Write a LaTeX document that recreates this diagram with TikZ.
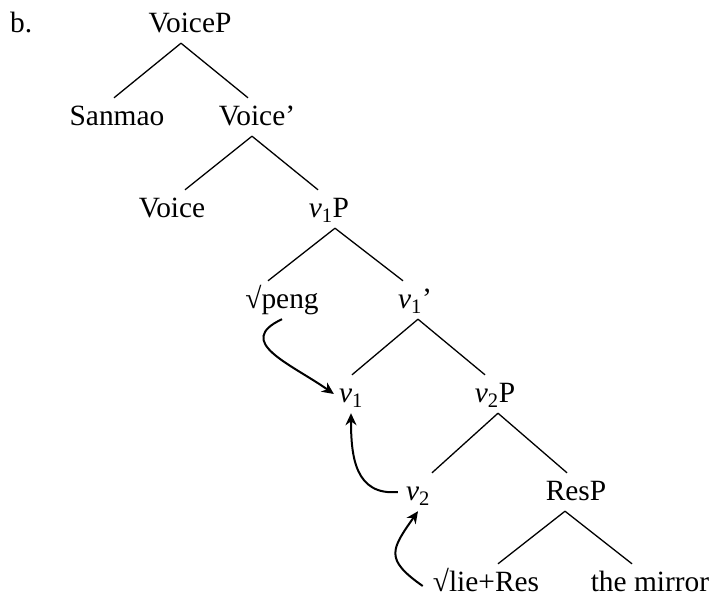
\documentclass[tikz,border=0pt]{standalone}
\usepackage{fontspec}
\setmainfont{Liberation Serif}
\usepackage{tikz}
\usetikzlibrary{arrows.meta}

\newcommand{\vhead}[1]{\textit{v}\textsubscript{#1}}

\begin{document}
\begin{tikzpicture}[x=1pt,y=1pt,
    font=\fontsize{29.4}{35}\selectfont,
    lbl/.style={anchor=base,inner xsep=2pt,inner ysep=6pt,text height=21pt,text depth=5pt},
    mv/.style={-{Stealth[length=12pt,width=11pt]},line width=2pt}]
            \useasboundingbox (0,0) rectangle (714,-597);
            \node[anchor=base west,inner sep=0pt] (lab) at (10,-32) {b.};
            \foreach \n/\x/\y/\t in {VoiceP/190/32/VoiceP,Sanmao/117/125/Sanmao,Voicebar/257/125/Voice’,
                Voice/172/217/Voice,vaP/329/217/\vhead{1}P,peng/282/308/√peng,vabar/415/308/\vhead{1}’,
                va/351/402/\vhead{1},vbP/495/402/\vhead{2}P,vb/418/500/\vhead{2},ResP/576/500/ResP,
                lie/486/591/√lie+Res,mirror/650/591/the mirror}
            {
                \node[lbl] (\n) at (\x,-\y) {\t};
            }
            % branches, with the small sideways offsets of each end
            \foreach \p/\c/\a/\b in {VoiceP/Sanmao/-9/-3,VoiceP/Voicebar/-9/-9,Voicebar/Voice/-5/13,
                Voicebar/vaP/-5/-11,vaP/peng/6/-14,vaP/vabar/6/-12,vabar/va/3/1,vabar/vbP/3/-10,
                vbP/vb/3/14,vbP/ResP/3/-9,ResP/lie/-11/12,ResP/mirror/-11/-18}
            {
                \draw[line width=1.3pt] ([xshift=\a pt]\p.south) -- ([xshift=\b pt]\c.north);
            }
            % head movement
            \draw[mv] (peng.south) to[out=205,in=145,looseness=1.5] ([xshift=-3pt]va.west);
            \draw[mv] ([xshift=-6pt]vb.west) to[out=185,in=270,looseness=1.2] (va.south);
            \draw[mv] ([xshift=-8pt,yshift=-3pt]lie.west) to[out=145,in=235,looseness=1.6] (vb.south);
        \end{tikzpicture}
\end{document}
